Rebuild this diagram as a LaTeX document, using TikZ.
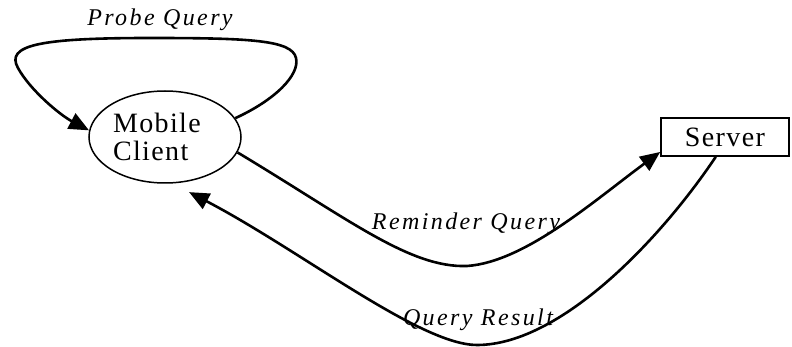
\documentclass[tikz,border=0pt]{standalone}
\usepackage{fontspec}
\setmainfont{Liberation Serif}
\usetikzlibrary{arrows.meta,shapes.geometric,positioning}

\begin{document}
\begin{tikzpicture}[
  x=1pt,y=-1pt,
  flow/.style={line width=2.6pt,-{Triangle[length=20pt,width=17pt]}},
  lbl/.style={anchor=base,inner sep=0,
    font=\fontsize{24}{26}\selectfont\itshape\addfontfeatures{LetterSpace=10}},
  ]

  \useasboundingbox (0,0) rectangle (792,347);

  \node[draw,ellipse,line width=1.5pt,minimum width=152pt,minimum height=92pt,
    inner sep=0,text width=104pt,align=left,
    font=\fontsize{28}{28}\selectfont\addfontfeatures{LetterSpace=5}]
    (client) at (165,137) {Mobile\\Client};

  \node[draw,rectangle,line width=1.6pt,minimum width=128pt,minimum height=38pt,
    inner sep=0,font=\fontsize{28}{28}\selectfont\addfontfeatures{LetterSpace=5}]
    (server) at (725,137) {Server};

  \draw[flow] (client.15) .. controls (275,100) and (300,75) .. (296,58)
    .. controls (292,40) and (250,38) .. (150,38)
    .. controls (40,38) and (5,45) .. (18,68)
    .. controls (30,90) and (60,115) .. (client.175);

  \draw[flow] (client.-12) .. controls (350,220) and (410,268) .. (467,266)
    .. controls (525,262) and (595,200) .. (server.193);

  \draw[flow] (server.-115) .. controls (660,240) and (560,345) .. (477,345)
    .. controls (420,345) and (300,250) .. ([xshift=4pt,yshift=-10pt]client.-66);

  \node[lbl] (probe) at (160,26) {Probe Query};
  \node[lbl] (remind) at (466,230) {Reminder Query};
  \node[lbl] (result) at (478,325) {Query Result};

\end{tikzpicture}
\end{document}
